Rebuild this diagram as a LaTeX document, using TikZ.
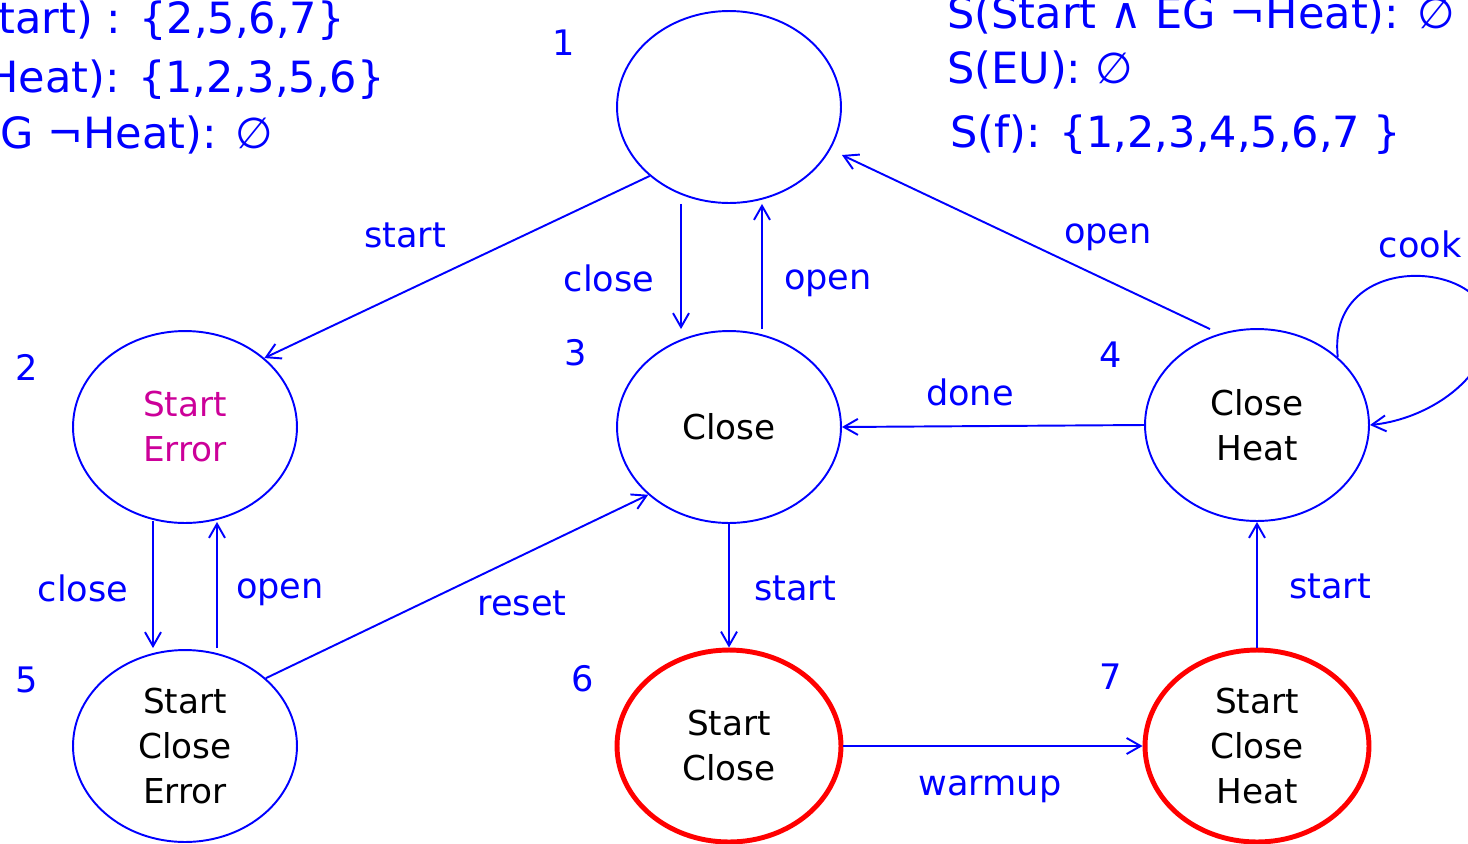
\documentclass[tikz,border=0pt]{standalone}
\usepackage{fontspec}
\setmainfont{DejaVu Sans}
\usepackage{tikz}
\usetikzlibrary{shapes.geometric,arrows.meta,calc}
\definecolor{kblue}{RGB}{0,0,255}
\definecolor{kred}{RGB}{255,0,0}
\definecolor{kpink}{RGB}{204,0,153}

\begin{document}
\begin{tikzpicture}[x=0.02cm,y=-0.02cm,
	state/.style={ellipse,draw=kblue,line width=1.1pt,minimum width=4.48cm,minimum height=3.84cm,
		inner sep=0pt,align=center,font=\fontsize{19.5}{25.6}\selectfont},
	final/.style={state,draw=kred,line width=2.8pt},
	trans/.style={kblue,line width=1.1pt,-{Straight Barb[length=2.8mm,width=3.2mm]}},
	lbl/.style={text=kblue,inner sep=0pt,font=\fontsize{20}{24}\selectfont},
	spec/.style={text=kblue,inner sep=0pt,font=\fontsize{24.5}{28}\selectfont}]
\useasboundingbox (0,0) rectangle (1468,843);

% the seven states
\node[state] (s1) at (729,107) {};
\node[state,text=kpink] (s2) at (185,427) {Start\\Error};
\node[state] (s3) at (729,427) {Close};
\node[state] (s4) at (1257,425) {Close\\Heat};
\node[state] (s5) at (185,746) {Start\\Close\\Error};
\node[final] (s6) at (729,746) {Start\\Close};
\node[final] (s7) at (1257,746) {Start\\Close\\Heat};

% state numbers
\node[lbl] (n1) at (564,43) {1};
\node[lbl] (n2) at (27,367) {2};
\node[lbl] (n3) at (576,353) {3};
\node[lbl] (n4) at (1111,355) {4};
\node[lbl] (n5) at (27,680) {5};
\node[lbl] (n6) at (583,679) {6};
\node[lbl] (n7) at (1111,677) {7};

% transitions
\draw[trans] (s1.221) -- (s2.41);
\draw[trans] ($(s1.south)+(-48,0)$) -- ($(s3.north)+(-48,-1)$);
\draw[trans] ($(s3.north)+(33,-1)$) -- ($(s1.south)+(33,0)$);
\draw[trans] ($(s4.north)+(-47,1)$) -- ($(s1.east)+(0,48)$);
\draw[trans] (s4.west) -- (s3.east);
\draw[trans] (s4.40) .. controls (1325,240) and (1520,260) .. (1485,350)
	.. controls (1470,390) and (1420,420) .. (s4.east);
\draw[trans] ($(s2.south)+(-32,-3)$) -- ($(s5.north)+(-32,-1)$);
\draw[trans] ($(s5.north)+(32,-1)$) -- ($(s2.south)+(32,-2)$);
\draw[trans] (s5.40) -- (s3.220);
\draw[trans] (s3.south) -- (s6.north);
\draw[trans] (s6.east) -- (s7.west);
\draw[trans] (s7.north) -- (s4.south);

% transition labels
\node[lbl] (t-start1) at (405,235) {start};
\node[lbl] (t-close1) at (609,278) {close};
\node[lbl] (t-open1) at (828,283) {open};
\node[lbl] (t-open2) at (1108,237) {open};
\node[lbl] (t-cook) at (1420,244) {cook};
\node[lbl] (t-done) at (970,392) {done};
\node[lbl] (t-close2) at (83,588) {close};
\node[lbl] (t-open3) at (280,592) {open};
\node[lbl] (t-reset) at (522,603) {reset};
\node[lbl] (t-start2) at (795,588) {start};
\node[lbl] (t-start3) at (1330,586) {start};
\node[lbl] (t-warmup) at (990,789) {warmup};

% satisfying sets
\node[spec,anchor=base east] (sa) at (345,33) {S(Start) : \{2,5,6,7\}};
\node[spec,anchor=base east] (sb) at (385,92) {S(¬Heat): \{1,2,3,5,6\}};
\node[spec,anchor=base east] (sc) at (273,148) {S(EG ¬Heat): ∅};
\node[spec,anchor=base west] (sd) at (947,28) {S(Start ∧ EG ¬Heat): ∅};
\node[spec,anchor=base west] (se) at (947,83) {S(EU): ∅};
\node[spec,anchor=base west] (sf) at (950,147) {S(f): \{1,2,3,4,5,6,7 \}};
\end{tikzpicture}
\end{document}
